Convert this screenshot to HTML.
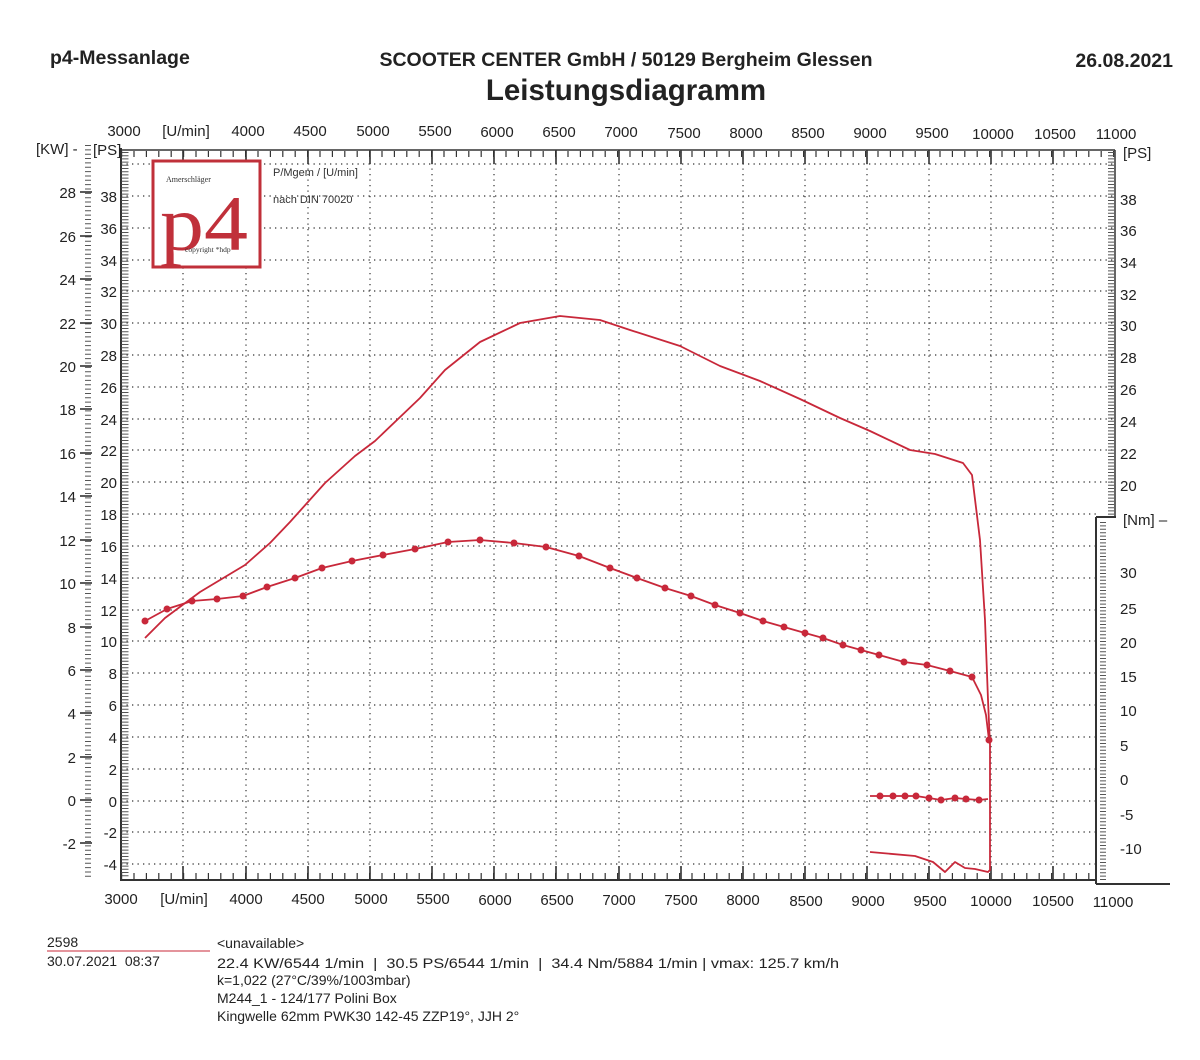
<!DOCTYPE html>
<html><head><meta charset="utf-8"><style>
html,body{margin:0;padding:0;background:#fff;}
svg{display:block;font-family:"Liberation Sans",Arial,sans-serif;}
</style></head><body>
<svg width="1200" height="1060" viewBox="0 0 1200 1060" xmlns="http://www.w3.org/2000/svg">
<rect width="1200" height="1060" fill="#fff"/>
<!-- header -->
<text x="50" y="64" font-size="19.5" font-weight="bold" fill="#222">p4-Messanlage</text>
<text x="626" y="66" font-size="19.5" font-weight="bold" fill="#222" text-anchor="middle">SCOOTER CENTER GmbH / 50129 Bergheim Glessen</text>
<text x="626" y="100" font-size="29.5" font-weight="bold" fill="#222" text-anchor="middle">Leistungsdiagramm</text>
<text x="1173" y="67" font-size="19.5" font-weight="bold" fill="#222" text-anchor="end">26.08.2021</text>

<!-- grid -->
<g stroke="#333" stroke-width="1.2" stroke-dasharray="1.3 4.2" fill="none">
<line x1="183" y1="152" x2="183" y2="880"/><line x1="246" y1="152" x2="246" y2="880"/>
<line x1="308" y1="152" x2="308" y2="880"/><line x1="370" y1="152" x2="370" y2="880"/>
<line x1="432" y1="152" x2="432" y2="880"/><line x1="494" y1="152" x2="494" y2="880"/>
<line x1="556" y1="152" x2="556" y2="880"/><line x1="619" y1="152" x2="619" y2="880"/>
<line x1="681" y1="152" x2="681" y2="880"/><line x1="743" y1="152" x2="743" y2="880"/>
<line x1="805" y1="152" x2="805" y2="880"/><line x1="867" y1="152" x2="867" y2="880"/>
<line x1="929" y1="152" x2="929" y2="880"/><line x1="991" y1="152" x2="991" y2="880"/>
<line x1="1053" y1="152" x2="1053" y2="880"/>
<line x1="121" y1="164" x2="1115" y2="164"/><line x1="121" y1="196" x2="1115" y2="196"/>
<line x1="121" y1="228" x2="1115" y2="228"/><line x1="121" y1="260" x2="1115" y2="260"/>
<line x1="121" y1="291" x2="1115" y2="291"/><line x1="121" y1="323" x2="1115" y2="323"/>
<line x1="121" y1="355" x2="1115" y2="355"/><line x1="121" y1="387" x2="1115" y2="387"/>
<line x1="121" y1="419" x2="1115" y2="419"/><line x1="121" y1="450" x2="1115" y2="450"/>
<line x1="121" y1="482" x2="1115" y2="482"/><line x1="121" y1="514" x2="1100" y2="514"/>
<line x1="121" y1="546" x2="1096" y2="546"/><line x1="121" y1="578" x2="1096" y2="578"/>
<line x1="121" y1="610" x2="1096" y2="610"/><line x1="121" y1="641" x2="1096" y2="641"/>
<line x1="121" y1="673" x2="1096" y2="673"/><line x1="121" y1="705" x2="1096" y2="705"/>
<line x1="121" y1="737" x2="1096" y2="737"/><line x1="121" y1="769" x2="1096" y2="769"/>
<line x1="121" y1="801" x2="1096" y2="801"/><line x1="121" y1="832" x2="1096" y2="832"/>
<line x1="121" y1="864" x2="1096" y2="864"/>
</g>

<!-- axes -->
<g stroke="#333" fill="none">
<line x1="121" y1="148" x2="121" y2="881" stroke-width="2"/>
<line x1="120" y1="880" x2="1096" y2="880" stroke-width="2"/>
<line x1="120" y1="150" x2="1115" y2="150" stroke-width="1.5"/>
<line x1="1115" y1="150" x2="1115" y2="518" stroke-width="1.5"/>
<line x1="1096" y1="517" x2="1096" y2="884" stroke-width="2"/>
<line x1="1096" y1="517" x2="1116" y2="517" stroke-width="2"/>
<line x1="1096" y1="884" x2="1170" y2="884" stroke-width="2"/>
<line x1="125" y1="152" x2="125" y2="878" stroke-width="7" stroke-dasharray="1 2.2" stroke="#555"/>
<line x1="88" y1="145" x2="88" y2="880" stroke-width="6" stroke-dasharray="1 3.35" stroke="#555"/>
<line x1="121" y1="876" x2="1096" y2="876" stroke-width="6" stroke-dasharray="1.2 11.2"/>
<line x1="121" y1="154" x2="1115" y2="154" stroke-width="6" stroke-dasharray="1.2 11.2"/>
<line x1="1111" y1="152" x2="1111" y2="516" stroke-width="6" stroke-dasharray="1 2.2" stroke="#555"/>
<line x1="1103" y1="522" x2="1103" y2="882" stroke-width="6" stroke-dasharray="1 2.4" stroke="#555"/>
</g>
<g stroke="#333" stroke-width="1.6">
<line x1="183" y1="866" x2="183" y2="880"/><line x1="246" y1="866" x2="246" y2="880"/><line x1="308" y1="866" x2="308" y2="880"/><line x1="370" y1="866" x2="370" y2="880"/><line x1="432" y1="866" x2="432" y2="880"/><line x1="494" y1="866" x2="494" y2="880"/><line x1="556" y1="866" x2="556" y2="880"/><line x1="619" y1="866" x2="619" y2="880"/><line x1="681" y1="866" x2="681" y2="880"/><line x1="743" y1="866" x2="743" y2="880"/><line x1="805" y1="866" x2="805" y2="880"/><line x1="867" y1="866" x2="867" y2="880"/><line x1="929" y1="866" x2="929" y2="880"/><line x1="991" y1="866" x2="991" y2="880"/><line x1="1053" y1="866" x2="1053" y2="880"/>
<line x1="183" y1="150" x2="183" y2="164"/><line x1="246" y1="150" x2="246" y2="164"/><line x1="308" y1="150" x2="308" y2="164"/><line x1="370" y1="150" x2="370" y2="164"/><line x1="432" y1="150" x2="432" y2="164"/><line x1="494" y1="150" x2="494" y2="164"/><line x1="556" y1="150" x2="556" y2="164"/><line x1="619" y1="150" x2="619" y2="164"/><line x1="681" y1="150" x2="681" y2="164"/><line x1="743" y1="150" x2="743" y2="164"/><line x1="805" y1="150" x2="805" y2="164"/><line x1="867" y1="150" x2="867" y2="164"/><line x1="929" y1="150" x2="929" y2="164"/><line x1="991" y1="150" x2="991" y2="164"/><line x1="1053" y1="150" x2="1053" y2="164"/>
<line x1="80" y1="192" x2="92" y2="192"/><line x1="80" y1="236" x2="92" y2="236"/><line x1="80" y1="279" x2="92" y2="279"/><line x1="80" y1="323" x2="92" y2="323"/><line x1="80" y1="366" x2="92" y2="366"/><line x1="80" y1="409" x2="92" y2="409"/><line x1="80" y1="453" x2="92" y2="453"/><line x1="80" y1="496" x2="92" y2="496"/><line x1="80" y1="540" x2="92" y2="540"/><line x1="80" y1="583" x2="92" y2="583"/><line x1="80" y1="627" x2="92" y2="627"/><line x1="80" y1="670" x2="92" y2="670"/><line x1="80" y1="713" x2="92" y2="713"/><line x1="80" y1="757" x2="92" y2="757"/><line x1="80" y1="800" x2="92" y2="800"/><line x1="80" y1="843" x2="92" y2="843"/>
</g>

<!-- axis labels -->
<g font-size="15" fill="#222">
<g text-anchor="middle">
<text x="124" y="136">3000</text><text x="186" y="136">[U/min]</text><text x="248" y="136">4000</text><text x="310" y="136">4500</text><text x="373" y="136">5000</text><text x="435" y="136">5500</text><text x="497" y="137">6000</text><text x="559" y="137">6500</text><text x="621" y="137">7000</text><text x="684" y="138">7500</text><text x="746" y="138">8000</text><text x="808" y="138">8500</text><text x="870" y="138">9000</text><text x="932" y="138">9500</text><text x="993" y="139">10000</text><text x="1055" y="139">10500</text><text x="1116" y="139">11000</text>
<text x="121" y="904">3000</text><text x="184" y="904">[U/min]</text><text x="246" y="904">4000</text><text x="308" y="904">4500</text><text x="371" y="904">5000</text><text x="433" y="904">5500</text><text x="495" y="905">6000</text><text x="557" y="905">6500</text><text x="619" y="905">7000</text><text x="681" y="905">7500</text><text x="743" y="905">8000</text><text x="806" y="906">8500</text><text x="868" y="906">9000</text><text x="930" y="906">9500</text><text x="991" y="906">10000</text><text x="1053" y="906">10500</text><text x="1113" y="907">11000</text>
</g>
<text x="36" y="154">[KW] -</text><text x="93" y="155">[PS]</text>
<g text-anchor="end">
<text x="76" y="198">28</text><text x="76" y="242">26</text><text x="76" y="285">24</text><text x="76" y="329">22</text><text x="76" y="372">20</text><text x="76" y="415">18</text><text x="76" y="459">16</text><text x="76" y="502">14</text><text x="76" y="546">12</text><text x="76" y="589">10</text><text x="76" y="633">8</text><text x="76" y="676">6</text><text x="76" y="719">4</text><text x="76" y="763">2</text><text x="76" y="806">0</text><text x="76" y="849">-2</text>
<text x="117" y="202">38</text><text x="117" y="234">36</text><text x="117" y="266">34</text><text x="117" y="297">32</text><text x="117" y="329">30</text><text x="117" y="361">28</text><text x="117" y="393">26</text><text x="117" y="425">24</text><text x="117" y="456">22</text><text x="117" y="488">20</text><text x="117" y="520">18</text><text x="117" y="552">16</text><text x="117" y="584">14</text><text x="117" y="616">12</text><text x="117" y="647">10</text><text x="117" y="679">8</text><text x="117" y="711">6</text><text x="117" y="743">4</text><text x="117" y="775">2</text><text x="117" y="807">0</text><text x="117" y="838">-2</text><text x="117" y="870">-4</text>
</g>
<text x="1123" y="158">[PS]</text>
<text x="1120" y="205">38</text><text x="1120" y="236">36</text><text x="1120" y="268">34</text><text x="1120" y="300">32</text><text x="1120" y="331">30</text><text x="1120" y="363">28</text><text x="1120" y="395">26</text><text x="1120" y="427">24</text><text x="1120" y="459">22</text><text x="1120" y="491">20</text>
<text x="1123" y="525">[Nm] –</text>
<text x="1120" y="578">30</text><text x="1120" y="614">25</text><text x="1120" y="648">20</text><text x="1120" y="682">15</text><text x="1120" y="716">10</text><text x="1120" y="751">5</text><text x="1120" y="785">0</text><text x="1120" y="820">-5</text><text x="1120" y="854">-10</text>
</g>

<!-- logo -->
<rect x="153" y="161" width="107" height="106" fill="#fff" stroke="#c0303a" stroke-width="3"/>
<text x="166" y="182" font-size="8" font-family="Liberation Serif,serif" fill="#333">Amerschläger</text>
<text x="160" y="250" font-size="78" font-family="Liberation Serif,serif" fill="#c0303a" textLength="88" lengthAdjust="spacingAndGlyphs">p4</text>
<text x="185" y="252" font-size="7.5" font-family="Liberation Serif,serif" fill="#333">copyright *hdp</text>
<text x="273" y="176" font-size="11" fill="#333">P/Mgem / [U/min]</text>
<text x="273" y="203" font-size="11" fill="#333">nach DIN 70020</text>

<!-- curves -->
<g fill="none" stroke="#c8283a" stroke-width="1.8" stroke-linejoin="round">
<path d="M145,638 L165,618 L200,592 L245,565 L270,543 L290,522 L325,483 L355,456 L375,441 L420,398 L445,370 L480,342 L520,323 L560,316 L600,320 L630,330 L680,346 L720,366 L760,381 L800,399 L840,418 L870,431 L910,450 L935,454 L963,463 L972,475 L980,540 L985,620 L988,700 L990,745 L990,870 L988,872 L975,869 L965,868 L955,862 L945,872 L933,862 L915,856 L870,852"/>
<path d="M145,621 L167,609 L192,601 L217,599 L243,596 L267,587 L295,578 L322,568 L352,561 L383,555 L415,549 L448,542 L480,540 L514,543 L546,547 L579,556 L610,568 L637,578 L665,588 L691,596 L715,605 L740,613 L763,621 L784,627 L805,633 L823,638 L843,645 L861,650 L879,655 L904,662 L927,665 L950,671 L972,677 L981,695 L986,715 L989,740"/>
<path d="M870,796 L880,796 L893,796 L905,796 L916,796 L929,798 L941,800 L955,798 L966,799 L979,800 L988,799"/>
</g>
<g fill="#c8283a">
<circle cx="145" cy="621" r="3.5"/><circle cx="167" cy="609" r="3.5"/><circle cx="192" cy="601" r="3.5"/><circle cx="217" cy="599" r="3.5"/><circle cx="243" cy="596" r="3.5"/><circle cx="267" cy="587" r="3.5"/><circle cx="295" cy="578" r="3.5"/><circle cx="322" cy="568" r="3.5"/><circle cx="352" cy="561" r="3.5"/><circle cx="383" cy="555" r="3.5"/><circle cx="415" cy="549" r="3.5"/><circle cx="448" cy="542" r="3.5"/><circle cx="480" cy="540" r="3.5"/><circle cx="514" cy="543" r="3.5"/><circle cx="546" cy="547" r="3.5"/><circle cx="579" cy="556" r="3.5"/><circle cx="610" cy="568" r="3.5"/><circle cx="637" cy="578" r="3.5"/><circle cx="665" cy="588" r="3.5"/><circle cx="691" cy="596" r="3.5"/><circle cx="715" cy="605" r="3.5"/><circle cx="740" cy="613" r="3.5"/><circle cx="763" cy="621" r="3.5"/><circle cx="784" cy="627" r="3.5"/><circle cx="805" cy="633" r="3.5"/><circle cx="823" cy="638" r="3.5"/><circle cx="843" cy="645" r="3.5"/><circle cx="861" cy="650" r="3.5"/><circle cx="879" cy="655" r="3.5"/><circle cx="904" cy="662" r="3.5"/><circle cx="927" cy="665" r="3.5"/><circle cx="950" cy="671" r="3.5"/><circle cx="972" cy="677" r="3.5"/><circle cx="989" cy="740" r="3.5"/>
<circle cx="880" cy="796" r="3.5"/><circle cx="893" cy="796" r="3.5"/><circle cx="905" cy="796" r="3.5"/><circle cx="916" cy="796" r="3.5"/><circle cx="929" cy="798" r="3.5"/><circle cx="941" cy="800" r="3.5"/><circle cx="955" cy="798" r="3.5"/><circle cx="966" cy="799" r="3.5"/><circle cx="979" cy="800" r="3.5"/>
</g>

<!-- footer -->
<g font-size="14" fill="#222">
<text x="47" y="947">2598</text>
<line x1="47" y1="951" x2="210" y2="951" stroke="#c8283a" stroke-width="1"/>
<text x="47" y="966">30.07.2021&#160; 08:37</text>
<text x="217" y="948">&lt;unavailable&gt;</text>
<text x="217" y="968" textLength="622" lengthAdjust="spacingAndGlyphs">22.4 KW/6544 1/min&#160; |&#160; 30.5 PS/6544 1/min&#160; |&#160; 34.4 Nm/5884 1/min | vmax: 125.7 km/h</text>
<text x="217" y="985">k=1,022 (27°C/39%/1003mbar)</text>
<text x="217" y="1003">M244_1 - 124/177 Polini Box</text>
<text x="217" y="1021">Kingwelle 62mm PWK30 142-45 ZZP19°, JJH 2°</text>
</g>
</svg>
</body></html>
